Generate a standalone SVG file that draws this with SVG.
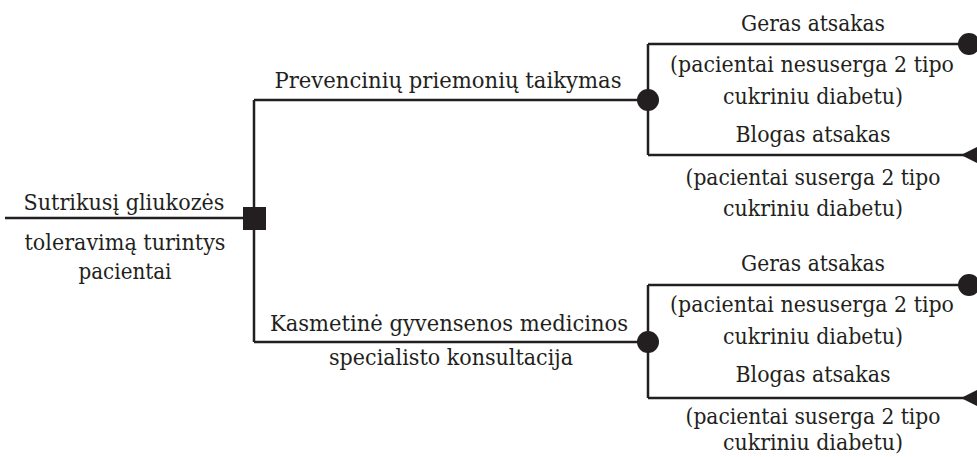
<svg xmlns="http://www.w3.org/2000/svg" width="977" height="457" viewBox="0 0 977 457">
<style>
.t{font-family:'DejaVu Serif',serif;font-size:23px;fill:#231f20;text-anchor:middle}
.s{font-size:22px}
.ln{stroke:#231f20;stroke-width:2.5;fill:none}
.fill{fill:#231f20}
</style>
<rect width="977" height="457" fill="#fff"/>
<g id="connectors">
<path class="ln" d="M5 218H254M254 100V342M254 100H648M254 342H648"/>
<path class="ln" d="M648 44V155M648 44H969M648 155H977"/>
<path class="ln" d="M648 285V398M648 285H969M648 398H977"/>
</g>
<g id="root">
<rect class="fill" x="243" y="207" width="23" height="23"/>
<text class="t" x="124" y="210" textLength="201" lengthAdjust="spacingAndGlyphs">Sutrikusį gliukozės</text>
<text class="t" x="125" y="250" textLength="201" lengthAdjust="spacingAndGlyphs">toleravimą turintys</text>
<text class="t" x="125" y="279" textLength="93" lengthAdjust="spacingAndGlyphs">pacientai</text>
</g>
<g id="chance1">
<circle class="fill" cx="648" cy="100" r="11"/>
<text class="t" x="448" y="88" textLength="347" lengthAdjust="spacingAndGlyphs">Prevencinių priemonių taikymas</text>
</g>
<g id="chance2">
<circle class="fill" cx="648" cy="342" r="11"/>
<text class="t" x="449" y="331" textLength="358" lengthAdjust="spacingAndGlyphs">Kasmetinė gyvensenos medicinos</text>
<text class="t" x="451" y="365" textLength="244" lengthAdjust="spacingAndGlyphs">specialisto konsultacija</text>
</g>
<g id="end1">
<circle class="fill" cx="969" cy="44" r="11"/>
<text class="t" x="813" y="31" textLength="144" lengthAdjust="spacingAndGlyphs">Geras atsakas</text>
<text class="t s" x="812" y="72" textLength="284" lengthAdjust="spacingAndGlyphs">(pacientai nesuserga 2 tipo</text>
<text class="t" x="813" y="104" textLength="180" lengthAdjust="spacingAndGlyphs">cukriniu diabetu)</text>
</g>
<g id="end2">
<polygon class="fill" points="961,155 977,147 977,163"/>
<text class="t" x="813" y="142" textLength="155" lengthAdjust="spacingAndGlyphs">Blogas atsakas</text>
<text class="t" x="813" y="185" textLength="255" lengthAdjust="spacingAndGlyphs">(pacientai suserga 2 tipo</text>
<text class="t" x="813" y="216" textLength="180" lengthAdjust="spacingAndGlyphs">cukriniu diabetu)</text>
</g>
<g id="end3">
<circle class="fill" cx="969" cy="285" r="11"/>
<text class="t" x="813" y="271" textLength="144" lengthAdjust="spacingAndGlyphs">Geras atsakas</text>
<text class="t s" x="812" y="312" textLength="284" lengthAdjust="spacingAndGlyphs">(pacientai nesuserga 2 tipo</text>
<text class="t" x="813" y="344" textLength="180" lengthAdjust="spacingAndGlyphs">cukriniu diabetu)</text>
</g>
<g id="end4">
<polygon class="fill" points="961,398 977,390 977,406"/>
<text class="t" x="813" y="382" textLength="155" lengthAdjust="spacingAndGlyphs">Blogas atsakas</text>
<text class="t" x="813" y="424" textLength="255" lengthAdjust="spacingAndGlyphs">(pacientai suserga 2 tipo</text>
<text class="t" x="813" y="450" textLength="180" lengthAdjust="spacingAndGlyphs">cukriniu diabetu)</text>
</g>
</svg>
